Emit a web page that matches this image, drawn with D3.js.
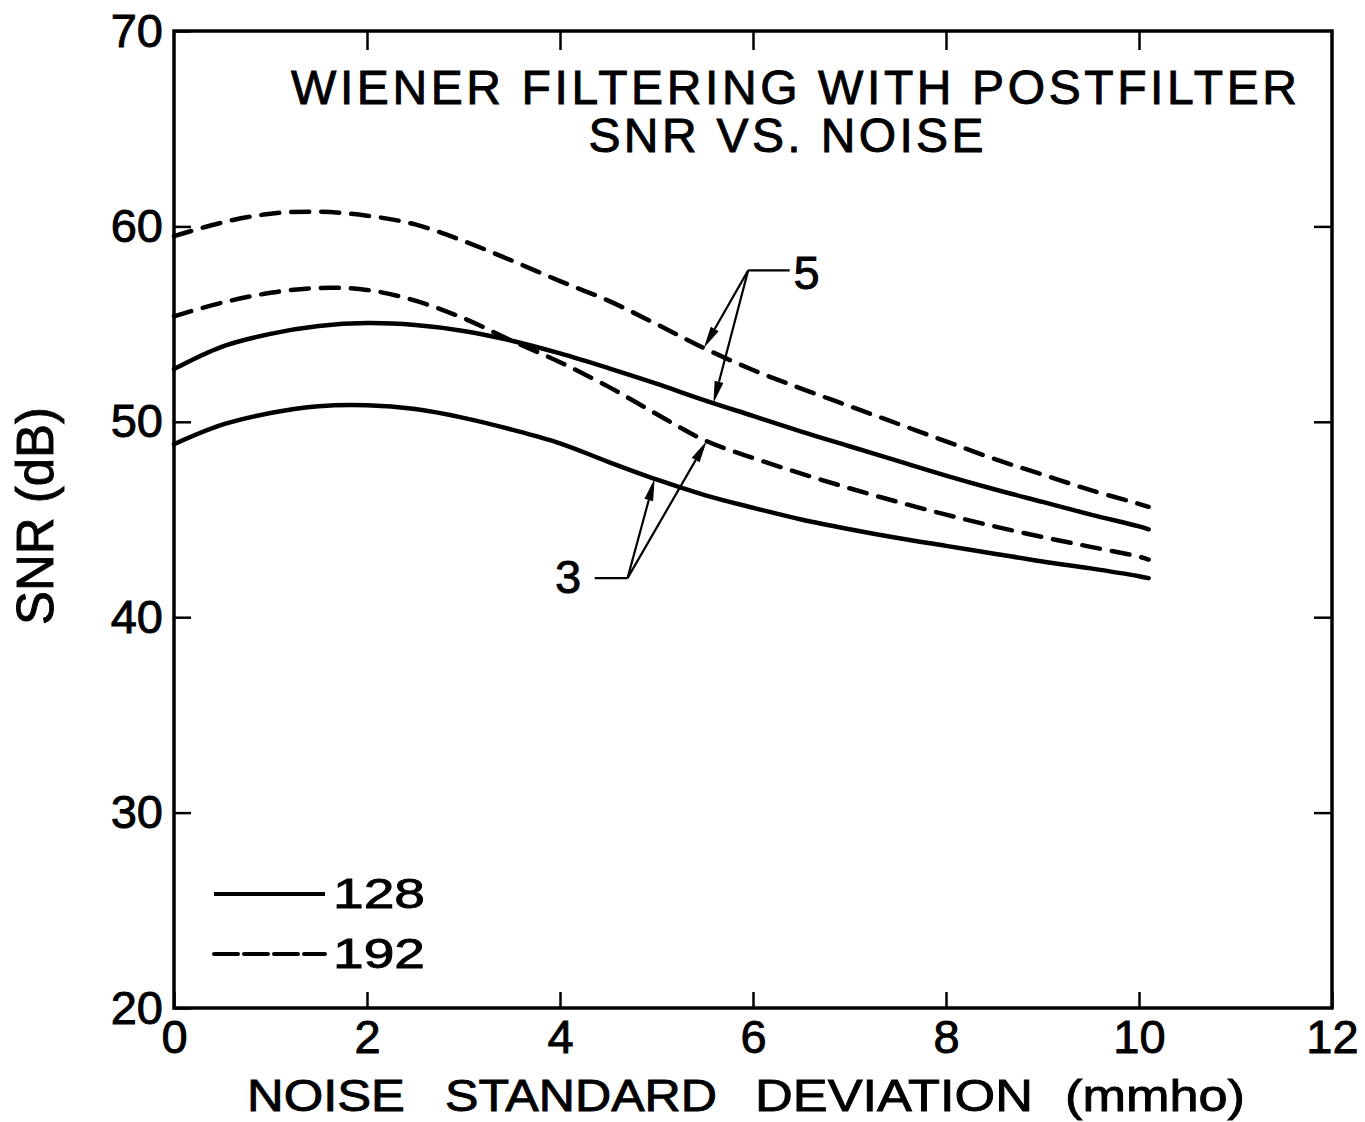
<!DOCTYPE html>
<html>
<head>
<meta charset="utf-8">
<script src="https://cdn.jsdelivr.net/npm/d3@7/dist/d3.min.js"></script>
<style>
  html, body { margin: 0; padding: 0; background: #fff; }
  svg { display: block; }
  text { font-family: "Liberation Sans", Arial, Helvetica, sans-serif; fill: #000; stroke: #000; stroke-width: 0.9px; }
</style>
</head>
<body>
<svg id="chart" width="1365" height="1122"></svg>
<script>
// Noise standard deviation (mmho) at which SNR was evaluated
const noise = [0, 0.5, 1, 1.5, 2, 2.5, 3, 3.5, 4, 4.5, 5, 5.5, 6, 6.5, 7, 7.5, 8, 8.5, 9, 9.5, 10, 10.1];

// SNR (dB), 128 and 192 samples, postfilter of order 5 and 3
const snr192_5 = [59.5, 60.2, 60.65, 60.75, 60.55, 60.1, 59.25, 58.25, 57.2, 56.2, 55.0, 53.75, 52.65, 51.7, 50.8, 49.9, 49.0, 48.1, 47.3, 46.5, 45.8, 45.65];
const snr128_5 = [52.7, 53.85, 54.5, 54.9, 55.05, 54.95, 54.65, 54.15, 53.5, 52.75, 51.95, 51.1, 50.3, 49.5, 48.75, 48.0, 47.25, 46.55, 45.9, 45.25, 44.65, 44.5];
const snr192_3 = [55.4, 56.1, 56.6, 56.85, 56.75, 56.2, 55.3, 54.15, 53.05, 51.8, 50.4, 49.05, 48.15, 47.35, 46.6, 45.9, 45.25, 44.65, 44.1, 43.6, 43.1, 42.95];
const snr128_3 = [48.85, 49.85, 50.45, 50.8, 50.85, 50.65, 50.2, 49.6, 48.9, 47.95, 47.05, 46.25, 45.6, 45.0, 44.5, 44.05, 43.65, 43.25, 42.85, 42.5, 42.1, 42.0];

// Axis ticks
const xTicks = [0, 2, 4, 6, 8, 10, 12];
const yTicks = [20, 30, 40, 50, 60, 70];

// Legend entries and text
const legendLabels = ["128", "192"];
const titleLines = ["WIENER FILTERING WITH POSTFILTER", "SNR VS. NOISE"];
const xTitleWords = ["NOISE", "STANDARD", "DEVIATION", "(mmho)"];
const yTitle = "SNR (dB)";

const svg = d3.select("#chart");
svg.append("rect").attr("width", 1365).attr("height", 1122).attr("fill", "#fff");

const plotL = 174, plotR = 1332, plotT = 31, plotB = 1008;
const x = d3.scaleLinear().domain([0, 12]).range([plotL, plotR]);
const y = d3.scaleLinear().domain([20, 70]).range([plotB, plotT]);

const series = [
  { key: "192-5", values: snr192_5, dash: "18,12" },
  { key: "128-5", values: snr128_5, dash: null },
  { key: "192-3", values: snr192_3, dash: "18,12" },
  { key: "128-3", values: snr128_3, dash: null }
];
const byKey = Object.fromEntries(series.map(s => [s.key, s]));

// value of a series at an arbitrary noise level (linear between samples)
function valueAt(key, nx) {
  const v = byKey[key].values;
  const i = Math.max(1, Math.min(noise.length - 1, d3.bisectLeft(noise, nx)));
  const t = (nx - noise[i - 1]) / (noise[i] - noise[i - 1]);
  return v[i - 1] + t * (v[i] - v[i - 1]);
}

// Axes with inward ticks
const tickFont = 47;
const gB = svg.append("g").attr("transform", `translate(0,${plotB})`)
  .call(d3.axisBottom(x).tickValues(xTicks).tickSizeInner(-16).tickSizeOuter(0).tickPadding(12).tickFormat(d3.format("d")));
const gL = svg.append("g").attr("transform", `translate(${plotL},0)`)
  .call(d3.axisLeft(y).tickValues(yTicks).tickSizeInner(-17).tickSizeOuter(0).tickPadding(11).tickFormat(d3.format("d")));
const gT = svg.append("g").attr("transform", `translate(0,${plotT})`)
  .call(d3.axisTop(x).tickValues(xTicks.slice(1, -1)).tickSizeInner(-19).tickSizeOuter(0).tickFormat(""));
const gR = svg.append("g").attr("transform", `translate(${plotR},0)`)
  .call(d3.axisRight(y).tickValues(yTicks.slice(1, -1)).tickSizeInner(-18).tickSizeOuter(0).tickFormat(""));

[gB, gL, gT, gR].forEach(g => {
  g.select(".domain").remove();
  g.selectAll(".tick line").attr("stroke", "#000").attr("stroke-width", 2.5);
  g.selectAll(".tick text").attr("font-size", tickFont).attr("font-family", "Liberation Sans, Arial, sans-serif")
    .attr("fill", "#000").attr("stroke", "#000").attr("stroke-width", 0.9);
});
gB.selectAll(".tick text").attr("y", 12).attr("dy", "0.7em");

// Frame
svg.append("rect")
  .attr("x", plotL).attr("y", plotT)
  .attr("width", plotR - plotL).attr("height", plotB - plotT)
  .attr("fill", "none").attr("stroke", "#000").attr("stroke-width", 3.5);

// Curves
const line = d3.line()
  .x((d, i) => x(noise[i]))
  .y(d => y(d))
  .curve(d3.curveCatmullRom.alpha(0.5));

svg.append("g").selectAll("path").data(series).join("path")
  .attr("d", d => line(d.values))
  .attr("fill", "none")
  .attr("stroke", "#000")
  .attr("stroke-width", 4.5)
  .attr("stroke-linecap", "round")
  .attr("stroke-dasharray", d => d.dash);

// Annotation arrows
function arrow(g, x0, y0, x1, y1) {
  const dx = x1 - x0, dy = y1 - y0, len = Math.hypot(dx, dy);
  const ux = dx / len, uy = dy / len;
  const hl = 22, hw = 4.5;
  const bx = x1 - ux * hl, by = y1 - uy * hl;
  g.append("line").attr("x1", x0).attr("y1", y0).attr("x2", bx).attr("y2", by)
    .attr("stroke", "#000").attr("stroke-width", 2.2);
  g.append("path")
    .attr("d", `M${x1},${y1}L${bx - uy * hw},${by + ux * hw}L${bx + uy * hw},${by - ux * hw}Z`)
    .attr("fill", "#000");
}

const annotations = [
  { label: "5", origin: [5.95, 57.75], leaderEnd: 6.38, text: [6.42, 56.8], anchor: "start",
    targets: [["192-5", 5.49], ["128-5", 5.59]] },
  { label: "3", origin: [4.70, 42.0], leaderEnd: 4.36, text: [4.22, 41.25], anchor: "end",
    targets: [["128-3", 4.98], ["192-3", 5.52]] }
];
const ann = svg.append("g");
annotations.forEach(a => {
  const ox = x(a.origin[0]), oy = y(a.origin[1]);
  ann.append("line").attr("x1", ox).attr("y1", oy).attr("x2", x(a.leaderEnd)).attr("y2", oy)
    .attr("stroke", "#000").attr("stroke-width", 2.2);
  a.targets.forEach(([k, tx]) => arrow(ann, ox, oy, x(tx), y(valueAt(k, tx))));
  ann.append("text").attr("x", x(a.text[0])).attr("y", y(a.text[1]))
    .attr("text-anchor", a.anchor).attr("font-size", 47).text(a.label);
});

// Legend
const legend = svg.append("g");
legendLabels.forEach((lab, i) => {
  const ly = 894 + i * 60;
  legend.append("line")
    .attr("x1", 214).attr("x2", 325).attr("y1", ly).attr("y2", ly)
    .attr("stroke", "#000").attr("stroke-width", 4)
    .attr("stroke-dasharray", i === 0 ? null : "24,6")
    .attr("stroke-linecap", i === 0 ? "butt" : "round");
  legend.append("text").attr("x", 333).attr("y", ly + 14)
    .attr("font-size", 43)
    .attr("textLength", 92).attr("lengthAdjust", "spacingAndGlyphs")
    .text(lab);
});

// Title
const titleY = [104, 152];
const titleW = [1006, 395];
const titleC = [794, 786];
titleLines.forEach((t, i) => {
  svg.append("text")
    .attr("x", titleC[i] - titleW[i] / 2).attr("y", titleY[i])
    .attr("font-size", 48)
    .attr("textLength", titleW[i]).attr("lengthAdjust", "spacing")
    .text(t);
});

// Axis title: four words spread along the bottom
const xTitleX = [247, 445, 755, 1065];
const xTitleW = [158, 272, 278, 180];
const xt = svg.append("g");
xTitleWords.forEach((w, i) => {
  xt.append("text").attr("x", xTitleX[i]).attr("y", 1111)
    .attr("font-size", 45)
    .attr("textLength", xTitleW[i]).attr("lengthAdjust", "spacingAndGlyphs")
    .text(w);
});

svg.append("text")
  .attr("transform", `translate(53,516) rotate(-90)`)
  .attr("text-anchor", "middle")
  .attr("font-size", 51)
  .text(yTitle);
</script>
</body>
</html>
